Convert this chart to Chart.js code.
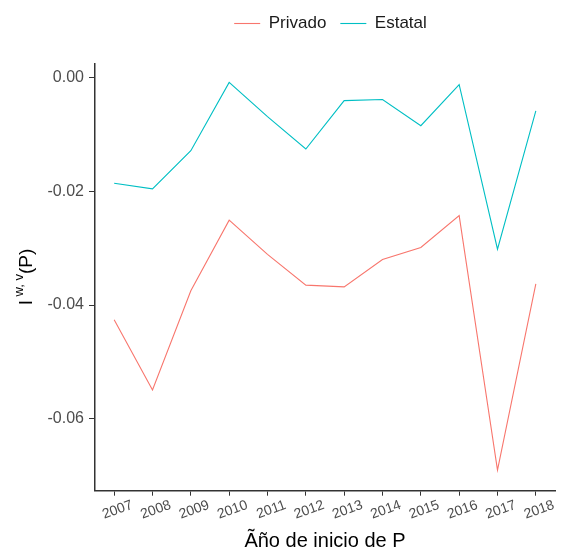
<!DOCTYPE html>
<html>
<head>
<meta charset="utf-8">
<script src="https://cdn.jsdelivr.net/npm/chart.js@4/dist/chart.umd.min.js"></script>
<style>
  html, body { margin: 0; padding: 0; background: #fff; }
  canvas { display: block; }
</style>
</head>
<body>
<canvas id="chart" width="565" height="552"></canvas>
<script>
const years = ["2007", "2008", "2009", "2010", "2011", "2012", "2013", "2014", "2015", "2016", "2017", "2018"];
const privado = [-0.0426, -0.0549, -0.0375, -0.0251, -0.0311, -0.0365, -0.0368, -0.0320, -0.0299, -0.0243, -0.0690, -0.0363];
const estatal = [-0.0186, -0.0196, -0.0129, -0.0009, -0.0069, -0.0126, -0.0041, -0.0039, -0.0085, -0.0013, -0.0302, -0.0059];
const yTicks = [0, -0.02, -0.04, -0.06];

const FONT = "'Liberation Sans', Arial, sans-serif";
const AXIS = "#333333";

// rotated y title with superscript: I^{w, v}(P)
const yTitle = {
  id: "yTitle",
  afterDraw(chart) {
    const ctx = chart.ctx;
    const area = chart.chartArea;
    const parts = [
      { t: "I", size: 19, dy: 0 },
      { t: " w, v", size: 13, dy: -8 },
      { t: "(P)", size: 19, dy: 0 }
    ];
    ctx.save();
    let total = 0;
    parts.forEach(p => {
      ctx.font = `${p.size}px ${FONT}`;
      p.w = ctx.measureText(p.t).width;
      total += p.w;
    });
    ctx.translate(27, (area.top + area.bottom) / 2);
    ctx.rotate(-Math.PI / 2);
    ctx.fillStyle = "#000";
    ctx.textBaseline = "middle";
    let x = -total / 2;
    parts.forEach(p => {
      ctx.font = `${p.size}px ${FONT}`;
      ctx.fillText(p.t, x, p.dy);
      x += p.w;
    });
    ctx.restore();
  }
};

// legend is centred a bit right of the canvas middle, like the reference
const legendShift = {
  id: "legendShift",
  afterLayout(chart) {
    const lg = chart.legend;
    if (!lg) return;
    lg.left += 53;
    lg.right += 53;
  }
};

new Chart(document.getElementById("chart"), {
  type: "line",
  data: {
    labels: years,
    datasets: [
      { label: "Privado", data: privado, borderColor: "#F8766D", backgroundColor: "#F8766D", borderWidth: 1.1 },
      { label: "Estatal", data: estatal, borderColor: "#00BFC4", backgroundColor: "#00BFC4", borderWidth: 1.1 }
    ]
  },
  options: {
    responsive: false,
    animation: false,
    layout: { padding: { top: 1, right: 10, bottom: 0, left: 0 } },
    elements: { point: { radius: 0 }, line: { tension: 0 } },
    plugins: {
      tooltip: { enabled: false },
      legend: {
        position: "top",
        labels: {
          usePointStyle: true,
          pointStyle: "line",
          pointStyleWidth: 26,
          boxHeight: 17,
          padding: 14,
          color: "#1a1a1a",
          font: { family: FONT, size: 17 }
        }
      },
      // empty spacer between the legend and the panel
      title: { display: true, text: "", weight: 500, padding: { top: 0, bottom: 5.7 }, font: { size: 13 } }
    },
    scales: {
      x: {
        type: "category",
        offset: true,
        grid: { offset: false, drawOnChartArea: false, drawTicks: true, tickLength: 5, color: AXIS, lineWidth: 1 },
        border: { display: true, color: AXIS, width: 1.5 },
        ticks: {
          color: "#4d4d4d",
          font: { family: FONT, size: 14 },
          maxRotation: 20,
          minRotation: 20,
          autoSkip: false,
          labelOffset: 18,
          padding: 1
        },
        title: {
          display: true,
          text: "Ãño de inicio de P",
          color: "#000",
          font: { family: FONT, size: 20, lineHeight: 1.1 },
          padding: { top: 4, bottom: 0 }
        },
        afterFit(scale) { scale.height = 61.3; }
      },
      y: {
        min: -0.0726,
        max: 0.00245,
        grid: { drawOnChartArea: false, drawTicks: true, tickLength: 6, color: AXIS, lineWidth: 1 },
        border: { display: true, color: AXIS, width: 1.5 },
        afterBuildTicks(scale) { scale.ticks = yTicks.map(v => ({ value: v })); },
        ticks: {
          color: "#4d4d4d",
          font: { family: FONT, size: 16 },
          padding: 5,
          callback: v => Number(v).toFixed(2)
        },
        afterFit(scale) { scale.width = 95; }
      }
    }
  },
  plugins: [yTitle, legendShift]
});
</script>
</body>
</html>
